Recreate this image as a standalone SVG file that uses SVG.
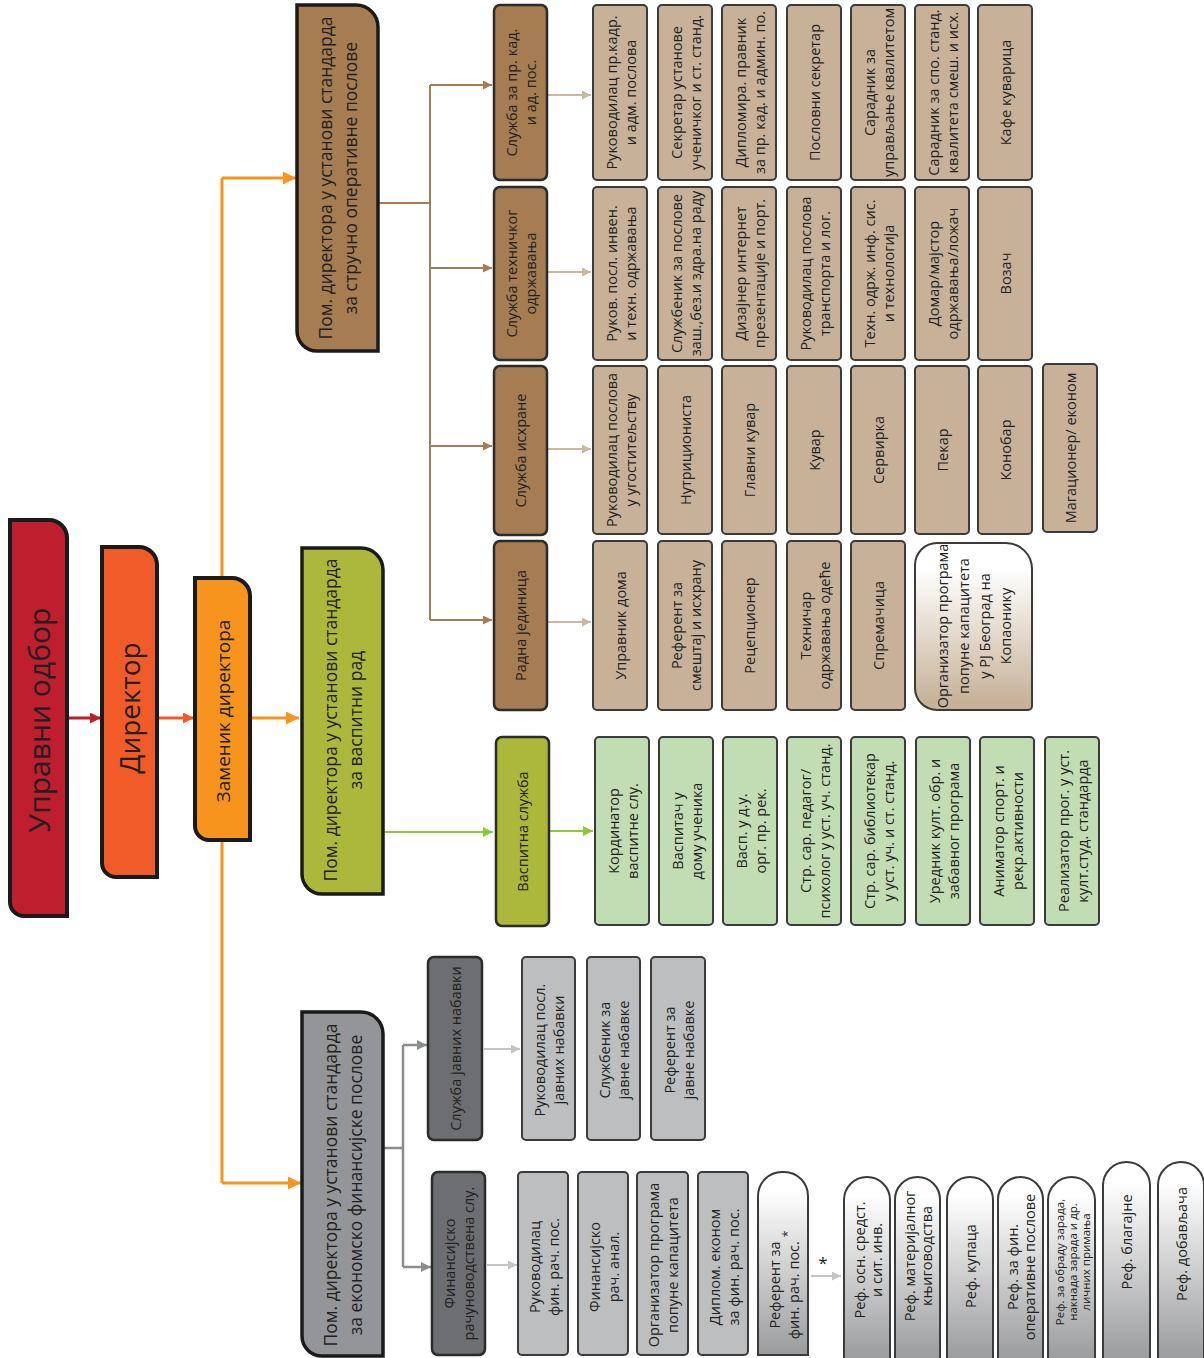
<svg xmlns="http://www.w3.org/2000/svg" width="1204" height="1358" viewBox="0 0 1204 1358">
<style>
.t{font-family:"Open Sans","Noto Sans","DejaVu Sans",sans-serif;text-anchor:middle;dominant-baseline:central;fill:#231f20}
.s14{font-size:14.5px}
.s12{font-size:11.5px}
.s18{font-size:17.5px}
.tan{fill:#c7b299;stroke:#3b3b3b;stroke-width:2}
.grn{fill:#c2ddb3;stroke:#3b3b3b;stroke-width:2}
.lg{fill:#bcbec0;stroke:#3b3b3b;stroke-width:2}
.sb{fill:#a67c52;stroke:#2b2b2b;stroke-width:2.5}
.so{fill:#abb83c;stroke:#2b2b2b;stroke-width:2.5}
.sd{fill:#6d6e71;stroke:#2b2b2b;stroke-width:2.5}
.main{stroke:#1a1a1a;stroke-width:4}
.c{fill:none}
</style>
<defs>
<linearGradient id="gTan" x1="0" y1="0" x2="0" y2="1"><stop offset="0.15" stop-color="#ffffff"/><stop offset="0.95" stop-color="#c7b299"/></linearGradient>
<linearGradient id="gGray" x1="0" y1="0" x2="0" y2="1"><stop offset="0.1" stop-color="#ffffff"/><stop offset="1" stop-color="#9a9b9d"/></linearGradient>
<marker id="aRed" viewBox="0 0 10 10" refX="10" refY="5" markerUnits="userSpaceOnUse" markerWidth="12" markerHeight="11" orient="auto"><path d="M0,0L10,5L0,10z" fill="#be1e2d"/></marker>
<marker id="aOR" viewBox="0 0 10 10" refX="10" refY="5" markerUnits="userSpaceOnUse" markerWidth="12" markerHeight="11" orient="auto"><path d="M0,0L10,5L0,10z" fill="#f15a29"/></marker>
<marker id="aOr" viewBox="0 0 10 10" refX="10" refY="5" markerUnits="userSpaceOnUse" markerWidth="14" markerHeight="13" orient="auto"><path d="M0,0L10,5L0,10z" fill="#f7941d"/></marker>
<marker id="aBr" viewBox="0 0 10 10" refX="10" refY="5" markerUnits="userSpaceOnUse" markerWidth="11" markerHeight="9" orient="auto"><path d="M0,0L10,5L0,10z" fill="#a67c52"/></marker>
<marker id="aLt" viewBox="0 0 10 10" refX="10" refY="5" markerUnits="userSpaceOnUse" markerWidth="11" markerHeight="9" orient="auto"><path d="M0,0L10,5L0,10z" fill="#c9b9a0"/></marker>
<marker id="aGr" viewBox="0 0 10 10" refX="10" refY="5" markerUnits="userSpaceOnUse" markerWidth="12" markerHeight="10" orient="auto"><path d="M0,0L10,5L0,10z" fill="#8dc63f"/></marker>
<marker id="aGy" viewBox="0 0 10 10" refX="10" refY="5" markerUnits="userSpaceOnUse" markerWidth="12" markerHeight="10" orient="auto"><path d="M0,0L10,5L0,10z" fill="#8a8c8e"/></marker>
<marker id="aLg" viewBox="0 0 10 10" refX="10" refY="5" markerUnits="userSpaceOnUse" markerWidth="11" markerHeight="9" orient="auto"><path d="M0,0L10,5L0,10z" fill="#c4c4c4"/></marker>
</defs>
<rect width="1204" height="1358" fill="#ffffff"/>

<g id="connectors" class="c">
<line x1="67" y1="718" x2="101" y2="718" stroke="#be1e2d" stroke-width="3" marker-end="url(#aRed)"/>
<line x1="158" y1="718" x2="194" y2="718" stroke="#f15a29" stroke-width="3" marker-end="url(#aOR)"/>
<line x1="222" y1="178" x2="222" y2="1183" stroke="#f7941d" stroke-width="3"/>
<polyline points="222,178 296,178" stroke="#f7941d" stroke-width="3" marker-end="url(#aOr)"/>
<line x1="252" y1="718" x2="299" y2="718" stroke="#f7941d" stroke-width="3" marker-end="url(#aOr)"/>
<polyline points="222,1183 301,1183" stroke="#f7941d" stroke-width="3" marker-end="url(#aOr)"/>
<line x1="378" y1="203" x2="430" y2="203" stroke="#a67c52" stroke-width="2"/>
<line x1="430" y1="85" x2="430" y2="620" stroke="#a67c52" stroke-width="2"/>
<line x1="430" y1="85" x2="492" y2="85" stroke="#a67c52" stroke-width="2" marker-end="url(#aBr)"/>
<line x1="430" y1="268" x2="492" y2="268" stroke="#a67c52" stroke-width="2" marker-end="url(#aBr)"/>
<line x1="430" y1="446" x2="492" y2="446" stroke="#a67c52" stroke-width="2" marker-end="url(#aBr)"/>
<line x1="430" y1="620" x2="492" y2="620" stroke="#a67c52" stroke-width="2" marker-end="url(#aBr)"/>
<line x1="548" y1="95" x2="591" y2="95" stroke="#c9b9a0" stroke-width="2" marker-end="url(#aLt)"/>
<line x1="548" y1="272" x2="591" y2="272" stroke="#c9b9a0" stroke-width="2" marker-end="url(#aLt)"/>
<line x1="548" y1="449" x2="591" y2="449" stroke="#c9b9a0" stroke-width="2" marker-end="url(#aLt)"/>
<line x1="548" y1="622" x2="591" y2="622" stroke="#c9b9a0" stroke-width="2" marker-end="url(#aLt)"/>
<line x1="385" y1="832" x2="493" y2="832" stroke="#8dc63f" stroke-width="2" marker-end="url(#aGr)"/>
<line x1="550" y1="831" x2="593" y2="831" stroke="#8dc63f" stroke-width="2" marker-end="url(#aGr)"/>
<line x1="384" y1="1148" x2="403" y2="1148" stroke="#8a8c8e" stroke-width="2.5"/>
<line x1="403" y1="1045" x2="403" y2="1267" stroke="#8a8c8e" stroke-width="2.5"/>
<line x1="403" y1="1045" x2="427" y2="1045" stroke="#8a8c8e" stroke-width="2.5" marker-end="url(#aGy)"/>
<line x1="403" y1="1267" x2="431" y2="1267" stroke="#8a8c8e" stroke-width="2.5" marker-end="url(#aGy)"/>
<line x1="484" y1="1049" x2="520" y2="1049" stroke="#c4c4c4" stroke-width="2" marker-end="url(#aLg)"/>
<line x1="487" y1="1265" x2="517" y2="1265" stroke="#c4c4c4" stroke-width="2" marker-end="url(#aLg)"/>
<line x1="811" y1="1276" x2="841" y2="1276" stroke="#c4c4c4" stroke-width="2" marker-end="url(#aLg)"/>
<text x="823" y="1262" style="font-family:'Open Sans',sans-serif;font-size:17px;fill:#231f20;stroke:none;text-anchor:middle;dominant-baseline:central">*</text>
</g>

<g id="n-upravni">
<path class="main" fill="#be1e2d" d="M10,520 H49 A18 18 0 0 1 67,538 V916 H24 A14 14 0 0 1 10,902 Z"/>
<text class="t" style="font-size:30px" transform="translate(38,720) rotate(-90)">Управни одбор</text>
</g>
<g id="n-direktor">
<path class="main" fill="#f15a29" d="M102,547 H139 A18 18 0 0 1 157,565 V877 H116 A14 14 0 0 1 102,863 Z"/>
<text class="t" style="font-size:28px" transform="translate(129,708) rotate(-90)">Директор</text>
</g>
<g id="n-zamenik">
<path class="main" fill="#f7941d" d="M195,578 H232 A18 18 0 0 1 250,596 V840 H209 A14 14 0 0 1 195,826 Z"/>
<text class="t" style="font-size:19px" transform="translate(223,711) rotate(-90)">Заменик директора</text>
</g>

<g id="n-pom-strucno">
<path class="main" style="stroke-width:3.5" fill="#a67c52" d="M297,5 H356 A22 22 0 0 1 378,27 V351 H317 A20 20 0 0 1 297,331 Z"/>
<text class="t s18" transform="translate(337,178) rotate(-90)"><tspan x="0" y="-12.5">Пом. директора у установи стандарда</tspan><tspan x="0" y="12.5">за стручно оперативне послове</tspan></text>
</g>
<g id="n-pom-vaspitni">
<path class="main" style="stroke-width:3.5" fill="#abb83c" d="M302,548 H361 A22 22 0 0 1 383,570 V894 H322 A20 20 0 0 1 302,874 Z"/>
<text class="t s18" transform="translate(342,720) rotate(-90)"><tspan x="0" y="-12.5">Пом. директора у установи стандарда</tspan><tspan x="0" y="12.5">за васпитни рад</tspan></text>
</g>
<g id="n-pom-ekonomsko">
<path class="main" style="stroke-width:3.5" fill="#939598" d="M302,1012 H361 A22 22 0 0 1 383,1034 V1356 H322 A20 20 0 0 1 302,1336 Z"/>
<text class="t s18" transform="translate(342,1185) rotate(-90)"><tspan x="0" y="-12.5">Пом. директора у установи стандарда</tspan><tspan x="0" y="12.5">за економско финансијске послове</tspan></text>
</g>

<g id="n-sl-kad"><rect class="sb" x="494" y="5" width="53" height="175" rx="6"/>
<text class="t s14" transform="translate(520.5,92.5) rotate(-90)"><tspan x="0" y="-9.5">Служба за пр. кад.</tspan><tspan x="0" y="9.5">и ад. пос.</tspan></text></g>
<g id="n-sl-teh"><rect class="sb" x="494" y="187" width="53" height="173" rx="6"/>
<text class="t s14" transform="translate(520.5,273.5) rotate(-90)"><tspan x="0" y="-9.5">Служба техничког</tspan><tspan x="0" y="9.5">одржавања</tspan></text></g>
<g id="n-sl-ish"><rect class="sb" x="494" y="366" width="53" height="169" rx="6"/>
<text class="t s14" transform="translate(520.5,450.5) rotate(-90)">Служба исхране</text></g>
<g id="n-radna"><rect class="sb" x="494" y="541" width="53" height="169" rx="6"/>
<text class="t s14" transform="translate(520.5,625.5) rotate(-90)">Радна јединица</text></g>
<g id="n-vaspitna"><rect class="so" x="496" y="737" width="53" height="189" rx="6"/>
<text class="t s14" transform="translate(522.5,831.5) rotate(-90)">Васпитна служба</text></g>
<g id="n-javne"><rect class="sd" x="428" y="957" width="54" height="183" rx="6"/>
<text class="t s14" transform="translate(455,1048.5) rotate(-90)">Служба јавних набавки</text></g>
<g id="n-fin"><rect class="sd" x="432" y="1172" width="53" height="183" rx="6"/>
<text class="t s14" transform="translate(458.5,1263.5) rotate(-90)"><tspan x="0" y="-9.5">Финансијско</tspan><tspan x="0" y="9.5">рачуноводствена слу.</tspan></text></g>

<!-- row 1 -->
<g id="n-r1c1"><rect class="tan" x="593" y="5" width="54" height="175" rx="4"/><text class="t s14" transform="translate(620,92.5) rotate(-90)"><tspan x="0" y="-9.5">Руководилац пр.кадр.</tspan><tspan x="0" y="9.5">и адм. послова</tspan></text></g>
<g id="n-r1c2"><rect class="tan" x="658" y="5" width="54" height="175" rx="4"/><text class="t s14" transform="translate(685,92.5) rotate(-90)"><tspan x="0" y="-9.5">Секретар установе</tspan><tspan x="0" y="9.5">ученичког и ст. станд.</tspan></text></g>
<g id="n-r1c3"><rect class="tan" x="722" y="5" width="54" height="175" rx="4"/><text class="t s14" transform="translate(749,92.5) rotate(-90)"><tspan x="0" y="-9.5">Дипломира. правник</tspan><tspan x="0" y="9.5">за пр. кад. и админ. по.</tspan></text></g>
<g id="n-r1c4"><rect class="tan" x="787" y="5" width="54" height="175" rx="4"/><text class="t s14" transform="translate(814,92.5) rotate(-90)">Пословни секретар</text></g>
<g id="n-r1c5"><rect class="tan" x="851" y="5" width="54" height="175" rx="4"/><text class="t s14" transform="translate(878,92.5) rotate(-90)"><tspan x="0" y="-9.5">Сарадник за</tspan><tspan x="0" y="9.5">управљање квалитетом</tspan></text></g>
<g id="n-r1c6"><rect class="tan" x="915" y="5" width="54" height="175" rx="4"/><text class="t s14" transform="translate(942,92.5) rotate(-90)"><tspan x="0" y="-9.5">Сарадник за спо. станд.</tspan><tspan x="0" y="9.5">квалитета смеш. и исх.</tspan></text></g>
<g id="n-r1c7"><rect class="tan" x="978" y="5" width="54" height="175" rx="4"/><text class="t s14" transform="translate(1005,92.5) rotate(-90)">Кафе куварица</text></g>

<!-- row 2 -->
<g id="n-r2c1"><rect class="tan" x="593" y="187" width="54" height="173" rx="4"/><text class="t s14" transform="translate(620,273.5) rotate(-90)"><tspan x="0" y="-9.5">Руков. посл. инвен.</tspan><tspan x="0" y="9.5">и техн. одржавања</tspan></text></g>
<g id="n-r2c2"><rect class="tan" x="658" y="187" width="54" height="173" rx="4"/><text class="t s14" transform="translate(685,273.5) rotate(-90)"><tspan x="0" y="-9.5">Службеник за послове</tspan><tspan x="0" y="9.5">заш.,без.и здра.на раду</tspan></text></g>
<g id="n-r2c3"><rect class="tan" x="722" y="187" width="54" height="173" rx="4"/><text class="t s14" transform="translate(749,273.5) rotate(-90)"><tspan x="0" y="-9.5">Дизајнер интернет</tspan><tspan x="0" y="9.5">презентације и порт.</tspan></text></g>
<g id="n-r2c4"><rect class="tan" x="787" y="187" width="54" height="173" rx="4"/><text class="t s14" transform="translate(814,273.5) rotate(-90)"><tspan x="0" y="-9.5">Руководилац послова</tspan><tspan x="0" y="9.5">транспорта и лог.</tspan></text></g>
<g id="n-r2c5"><rect class="tan" x="851" y="187" width="54" height="173" rx="4"/><text class="t s14" transform="translate(878,273.5) rotate(-90)"><tspan x="0" y="-9.5">Техн. одрж. инф. сис.</tspan><tspan x="0" y="9.5">и технологија</tspan></text></g>
<g id="n-r2c6"><rect class="tan" x="915" y="187" width="54" height="173" rx="4"/><text class="t s14" transform="translate(942,273.5) rotate(-90)"><tspan x="0" y="-9.5">Домар/мајстор</tspan><tspan x="0" y="9.5">одржавања/ложач</tspan></text></g>
<g id="n-r2c7"><rect class="tan" x="978" y="187" width="54" height="173" rx="4"/><text class="t s14" transform="translate(1005,273.5) rotate(-90)">Возач</text></g>

<!-- row 3 -->
<g id="n-r3c1"><rect class="tan" x="593" y="366" width="54" height="168" rx="4"/><text class="t s14" transform="translate(620,450) rotate(-90)"><tspan x="0" y="-9.5">Руководилац послова</tspan><tspan x="0" y="9.5">у угоститељству</tspan></text></g>
<g id="n-r3c2"><rect class="tan" x="658" y="366" width="54" height="168" rx="4"/><text class="t s14" transform="translate(685,450) rotate(-90)">Нутрициониста</text></g>
<g id="n-r3c3"><rect class="tan" x="722" y="366" width="54" height="168" rx="4"/><text class="t s14" transform="translate(749,450) rotate(-90)">Главни кувар</text></g>
<g id="n-r3c4"><rect class="tan" x="787" y="366" width="54" height="168" rx="4"/><text class="t s14" transform="translate(814,450) rotate(-90)">Кувар</text></g>
<g id="n-r3c5"><rect class="tan" x="851" y="366" width="54" height="168" rx="4"/><text class="t s14" transform="translate(878,450) rotate(-90)">Сервирка</text></g>
<g id="n-r3c6"><rect class="tan" x="915" y="366" width="54" height="168" rx="4"/><text class="t s14" transform="translate(942,450) rotate(-90)">Пекар</text></g>
<g id="n-r3c7"><rect class="tan" x="978" y="366" width="54" height="168" rx="4"/><text class="t s14" transform="translate(1005,450) rotate(-90)">Конобар</text></g>
<g id="n-r3c8"><rect class="tan" x="1043" y="364" width="54" height="168" rx="4"/><text class="t s14" transform="translate(1070,448) rotate(-90)">Магационер/ економ</text></g>

<!-- row 4 -->
<g id="n-r4c1"><rect class="tan" x="593" y="541" width="54" height="169" rx="4"/><text class="t s14" transform="translate(620,625.5) rotate(-90)">Управник дома</text></g>
<g id="n-r4c2"><rect class="tan" x="658" y="541" width="54" height="169" rx="4"/><text class="t s14" transform="translate(685,625.5) rotate(-90)"><tspan x="0" y="-9.5">Референт за</tspan><tspan x="0" y="9.5">смештај и исхрану</tspan></text></g>
<g id="n-r4c3"><rect class="tan" x="722" y="541" width="54" height="169" rx="4"/><text class="t s14" transform="translate(749,625.5) rotate(-90)">Рецепционер</text></g>
<g id="n-r4c4"><rect class="tan" x="787" y="541" width="54" height="169" rx="4"/><text class="t s14" transform="translate(814,625.5) rotate(-90)"><tspan x="0" y="-9.5">Техничар</tspan><tspan x="0" y="9.5">одржавања одеће</tspan></text></g>
<g id="n-r4c5"><rect class="tan" x="851" y="541" width="54" height="169" rx="4"/><text class="t s14" transform="translate(878,625.5) rotate(-90)">Спремачица</text></g>
<g id="n-r4org"><path fill="url(#gTan)" stroke="#3b3b3b" stroke-width="2" d="M937,543 H1006 A26 26 0 0 1 1032,569 V706 A4 4 0 0 1 1028,710 H937 A22 22 0 0 1 915,688 V565 A22 22 0 0 1 937,543 Z"/>
<text class="t s14" transform="translate(973.5,626) rotate(-90)"><tspan x="0" y="-31.5">Организатор програма</tspan><tspan x="0" y="-10.5">попуне капацитета</tspan><tspan x="0" y="10.5">у РЈ Београд на</tspan><tspan x="0" y="31.5">Копаонику</tspan></text></g>

<!-- green -->
<g id="n-g1"><rect class="grn" x="595" y="737" width="54" height="188" rx="4"/><text class="t s14" transform="translate(622,831) rotate(-90)"><tspan x="0" y="-9.5">Кординатор</tspan><tspan x="0" y="9.5">васпитне слу.</tspan></text></g>
<g id="n-g2"><rect class="grn" x="659" y="737" width="54" height="188" rx="4"/><text class="t s14" transform="translate(686,831) rotate(-90)"><tspan x="0" y="-9.5">Васпитач у</tspan><tspan x="0" y="9.5">дому ученика</tspan></text></g>
<g id="n-g3"><rect class="grn" x="723" y="737" width="54" height="188" rx="4"/><text class="t s14" transform="translate(750,831) rotate(-90)"><tspan x="0" y="-9.5">Васп. у д.у.</tspan><tspan x="0" y="9.5">орг. пр. рек.</tspan></text></g>
<g id="n-g4"><rect class="grn" x="787" y="737" width="54" height="188" rx="4"/><text class="t s14" transform="translate(814,831) rotate(-90)"><tspan x="0" y="-9.5">Стр. сар. педагог/</tspan><tspan x="0" y="9.5">психолог у уст. уч. станд.</tspan></text></g>
<g id="n-g5"><rect class="grn" x="851" y="737" width="54" height="188" rx="4"/><text class="t s14" transform="translate(878,831) rotate(-90)"><tspan x="0" y="-9.5">Стр. сар. библиотекар</tspan><tspan x="0" y="9.5">у уст. уч. и ст. станд.</tspan></text></g>
<g id="n-g6"><rect class="grn" x="916" y="737" width="54" height="188" rx="4"/><text class="t s14" transform="translate(943,831) rotate(-90)"><tspan x="0" y="-9.5">Уредник култ. обр. и</tspan><tspan x="0" y="9.5">забавног програма</tspan></text></g>
<g id="n-g7"><rect class="grn" x="980" y="737" width="54" height="188" rx="4"/><text class="t s14" transform="translate(1007,831) rotate(-90)"><tspan x="0" y="-9.5">Аниматор спорт. и</tspan><tspan x="0" y="9.5">рекр.активности</tspan></text></g>
<g id="n-g8"><rect class="grn" x="1045" y="737" width="54" height="188" rx="4"/><text class="t s14" transform="translate(1072,831) rotate(-90)"><tspan x="0" y="-9.5">Реализатор прог. у уст.</tspan><tspan x="0" y="9.5">култ.студ. стандарда</tspan></text></g>

<!-- javne nabavke items -->
<g id="n-j1"><rect class="lg" x="522" y="957" width="53" height="183" rx="4"/><text class="t s14" transform="translate(548.5,1050) rotate(-90)"><tspan x="0" y="-9.5">Руководилац посл.</tspan><tspan x="0" y="9.5">јавних набавки</tspan></text></g>
<g id="n-j2"><rect class="lg" x="587" y="957" width="53" height="183" rx="4"/><text class="t s14" transform="translate(613.5,1050) rotate(-90)"><tspan x="0" y="-9.5">Службеник за</tspan><tspan x="0" y="9.5">јавне набавке</tspan></text></g>
<g id="n-j3"><rect class="lg" x="651" y="957" width="54" height="183" rx="4"/><text class="t s14" transform="translate(678,1050) rotate(-90)"><tspan x="0" y="-9.5">Референт за</tspan><tspan x="0" y="9.5">јавне набавке</tspan></text></g>

<!-- fin items -->
<g id="n-f1"><rect class="lg" x="518" y="1172" width="50" height="183" rx="4"/><text class="t s14" transform="translate(543,1267) rotate(-90)"><tspan x="0" y="-9.5">Руководилац</tspan><tspan x="0" y="9.5">фин. рач. пос.</tspan></text></g>
<g id="n-f2"><rect class="lg" x="578" y="1172" width="50" height="183" rx="4"/><text class="t s14" transform="translate(603,1267) rotate(-90)"><tspan x="0" y="-9.5">Финансијско</tspan><tspan x="0" y="9.5">рач. анал.</tspan></text></g>
<g id="n-f3"><rect class="lg" x="637" y="1172" width="51" height="183" rx="4"/><text class="t s14" transform="translate(662.5,1265) rotate(-90)"><tspan x="0" y="-9.5">Организатор програма</tspan><tspan x="0" y="9.5">попуне капацитета</tspan></text></g>
<g id="n-f4"><rect class="lg" x="698" y="1172" width="50" height="183" rx="4"/><text class="t s14" transform="translate(723,1267) rotate(-90)"><tspan x="0" y="-9.5">Диплом. економ</tspan><tspan x="0" y="9.5">за фин. рач. пос.</tspan></text></g>
<g id="n-f5"><path fill="url(#gGray)" stroke="#3b3b3b" stroke-width="2" d="M758,1355 V1196 A24 24 0 0 1 782,1172 H784 A24 24 0 0 1 808,1196 V1355 Z"/><text class="t s14" transform="translate(783,1285) rotate(-90)"><tspan x="0" y="-9.5">Референт за</tspan><tspan x="0" y="9.5">фин. рач. пос. <tspan dy="-6" font-size="12">*</tspan></tspan></text></g>

<!-- ref items -->
<g id="n-ref1"><path fill="url(#gGray)" stroke="#3b3b3b" stroke-width="2" d="M844,1360 V1200 A23 23 0 0 1 867,1177 A23 23 0 0 1 890,1200 V1360 Z"/><text class="t s14" transform="translate(867,1260) rotate(-90)"><tspan x="0" y="-8.5">Реф. осн. средст.</tspan><tspan x="0" y="8.5">и сит. инв.</tspan></text></g>
<g id="n-ref2"><path fill="url(#gGray)" stroke="#3b3b3b" stroke-width="2" d="M895,1360 V1200 A22.5 22.5 0 0 1 917.5,1177 A22.5 22.5 0 0 1 940,1200 V1360 Z"/><text class="t s14" transform="translate(917.5,1256) rotate(-90)"><tspan x="0" y="-8.5">Реф. материјалног</tspan><tspan x="0" y="8.5">књиговодства</tspan></text></g>
<g id="n-ref3"><path fill="url(#gGray)" stroke="#3b3b3b" stroke-width="2" d="M947,1360 V1200 A23 23 0 0 1 970,1177 A23 23 0 0 1 993,1200 V1360 Z"/><text class="t s14" transform="translate(970,1266) rotate(-90)">Реф. купаца</text></g>
<g id="n-ref4"><path fill="url(#gGray)" stroke="#3b3b3b" stroke-width="2" d="M998,1360 V1200 A22.5 22.5 0 0 1 1020.5,1177 A22.5 22.5 0 0 1 1043,1200 V1360 Z"/><text class="t s14" transform="translate(1020.5,1267) rotate(-90)"><tspan x="0" y="-8.5">Реф. за фин.</tspan><tspan x="0" y="8.5">оперативне послове</tspan></text></g>
<g id="n-ref5"><path fill="url(#gGray)" stroke="#3b3b3b" stroke-width="2" d="M1048,1360 V1200 A23.5 23.5 0 0 1 1071.5,1177 A23.5 23.5 0 0 1 1095,1200 V1360 Z"/><text class="t s12" transform="translate(1071.5,1262) rotate(-90)"><tspan x="0" y="-13">Реф. за обраду зарада,</tspan><tspan x="0" y="0">накнада зарада и др.</tspan><tspan x="0" y="13">личних примања</tspan></text></g>
<g id="n-ref6"><path fill="url(#gGray)" stroke="#3b3b3b" stroke-width="2" d="M1103,1360 V1185 A23.5 23.5 0 0 1 1126.5,1162 A23.5 23.5 0 0 1 1150,1185 V1360 Z"/><text class="t s14" transform="translate(1126.5,1242) rotate(-90)">Реф. благајне</text></g>
<g id="n-ref7"><path fill="url(#gGray)" stroke="#3b3b3b" stroke-width="2" d="M1158,1360 V1185 A23 23 0 0 1 1181,1162 A23 23 0 0 1 1204,1185 V1360 Z"/><text class="t s14" transform="translate(1181,1244) rotate(-90)">Реф. добављача</text></g>
</svg>
